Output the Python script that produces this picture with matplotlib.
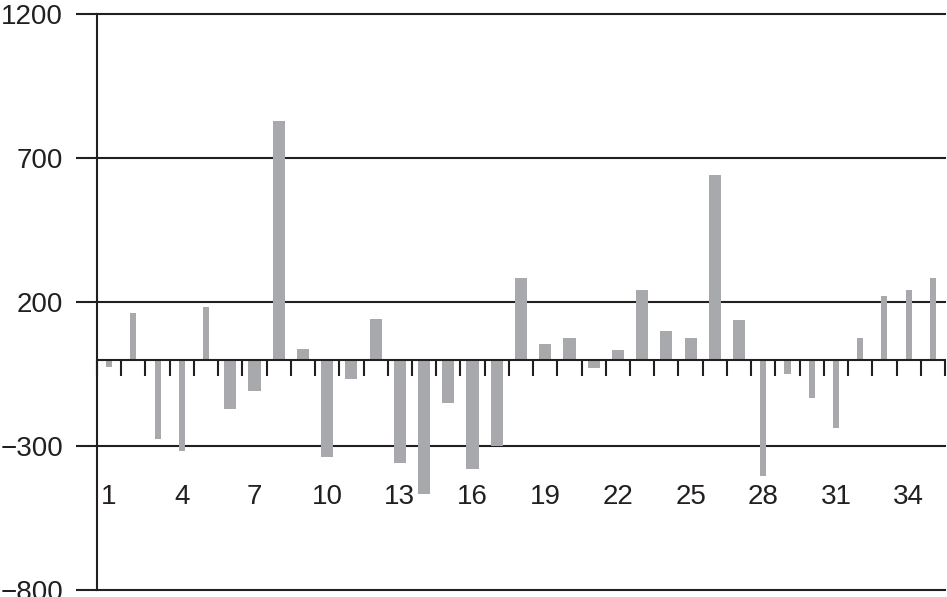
import matplotlib
matplotlib.use("Agg")
import matplotlib.pyplot as plt

# data
positions = list(range(1, 36))
values = [-26, 162, -275, -318, 183, -171, -110, 830, 37, -338,
          -67, 141, -358, -465, -151, -381, -300, 284, 55, 76,
          -28, 35, 243, 100, 76, 642, 139, -403, -50, -133,
          -237, 76, 222, 243, 284]
# bars 1-5 and 28-35 are thin, the rest are wider
wide = [False] * 5 + [True] * 22 + [False] * 8
label_positions = [1, 4, 7, 10, 13, 16, 19, 22, 25, 28, 31, 34]
y_ticks = [-800, -300, 200, 700, 1200]

ink = "#231f20"
bar_color = "#a7a9ac"

plt.rcParams["font.family"] = ["Liberation Sans", "DejaVu Sans"]

W, H = 947, 597
fig = plt.figure(figsize=(W / 100, H / 100), dpi=100)
ax = fig.add_axes([97 / W, 1 - 590 / H, (945 - 97) / W, (590 - 14) / H])

widths = [0.5 if w else 0.25 for w in wide]
ax.bar(positions, values, width=widths, color=bar_color, zorder=2)

ax.set_xlim(0.5, 35.5)
ax.set_ylim(-800, 1200)

# y axis: ticks out to the left, gridlines across
ax.set_yticks(y_ticks)
ax.set_yticklabels([f"{v}".replace("-", "\u2212") for v in y_ticks])
ax.tick_params(axis="y", direction="out", length=15, width=1.5,
               color=ink, labelcolor=ink, labelsize=20, pad=9.5)
ax.yaxis.grid(True, color=ink, linewidth=1.5, zorder=1)
for gl in ax.get_ygridlines():
    gl.set_clip_on(False)

# x axis: baseline at zero, ticks at the category boundaries
ax.spines["bottom"].set_position(("data", 0))
ax.spines["bottom"].set_zorder(3)
ax.set_xticks([k + 0.5 for k in range(36)])
ax.set_xticklabels([])
ax.tick_params(axis="x", direction="out", length=11.5, width=1.5, color=ink)
for sp in ["top", "right"]:
    ax.spines[sp].set_visible(False)
for sp in ["left", "bottom"]:
    ax.spines[sp].set_color(ink)
    ax.spines[sp].set_linewidth(1.5)

for p in label_positions:
    ax.text(p, -477, str(p), ha="center", va="center", fontsize=20, color=ink)

fig.savefig("out.png", dpi=100)
